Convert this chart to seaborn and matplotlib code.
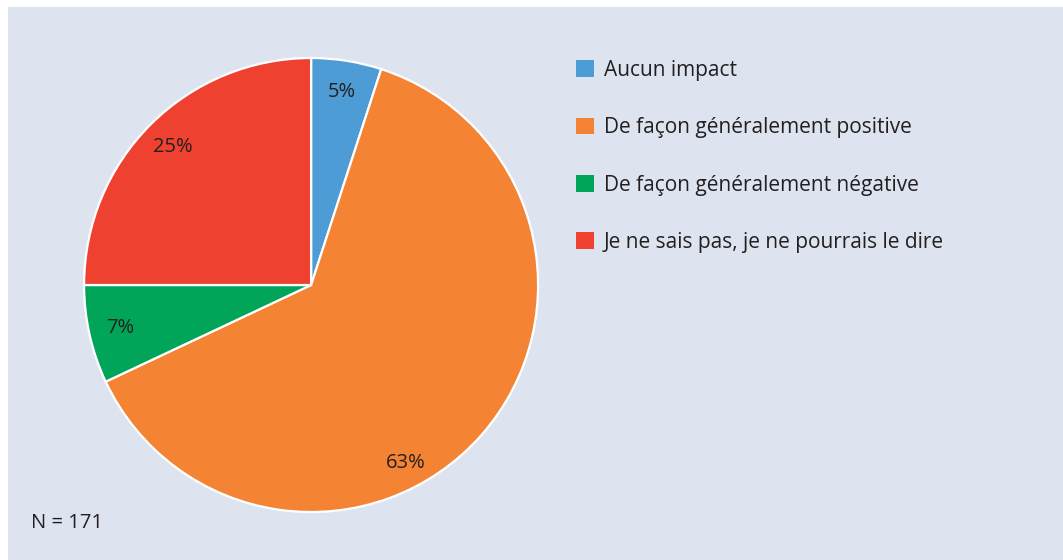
import matplotlib
matplotlib.use("Agg")
import numpy as np
import matplotlib.pyplot as plt
from matplotlib.patches import Patch, Rectangle
import seaborn as sns

# Data
categories = [
    "Aucun impact",
    "De façon généralement positive",
    "De façon généralement négative",
    "Je ne sais pas, je ne pourrais le dire",
]
shares = [5, 63, 7, 25]
colors = ["#4e9cd5", "#f48434", "#00a55a", "#ee4130"]
n_label = "N = 171"

bg_color = "#dde4f0"
text_color = "#231f20"

sns.set_theme(style="white")
plt.rcParams["font.family"] = ["Open Sans", "DejaVu Sans"]

fig = plt.figure(figsize=(10.63, 5.6), dpi=100)
fig.patch.set_facecolor("white")

# light panel behind everything
fig.patches.append(Rectangle((8 / 1063, 0), 1, 1 - 7 / 560, transform=fig.transFigure,
                             facecolor=bg_color, edgecolor="none", zorder=-5))

ax = fig.add_axes([0.0791, 0.0857, 0.4271, 0.8107])
ax.set_facecolor("none")
ax.set_zorder(2)
palette = sns.color_palette(colors)

wedges, texts, autotexts = ax.pie(
    shares,
    colors=palette,
    startangle=90,
    counterclock=False,
    autopct=lambda p: f"{p:.0f}%",
    pctdistance=0.86,
    wedgeprops=dict(edgecolor="white", linewidth=1.6),
    textprops=dict(color=text_color, fontsize=14.5),
)
# the big slice's label sits lower in the original, not at mid-angle
ang = np.deg2rad(-62)
autotexts[1].set_position((0.89 * np.cos(ang), 0.89 * np.sin(ang)))

ax.set_xlim(-1, 1)
ax.set_ylim(-1, 1)
ax.set_aspect("equal")

handles = [Patch(facecolor=c, edgecolor="none") for c in palette]
fig.legend(
    handles, categories,
    loc="upper left",
    bbox_to_anchor=(576 / 1063, 1 - 60 / 560),
    frameon=False,
    fontsize=15,
    labelcolor=text_color,
    handlelength=0.85,
    handleheight=0.85,
    handletextpad=0.5,
    labelspacing=1.74,
    borderpad=0,
    borderaxespad=0,
)

fig.text(31 / 1063, 1 - 523 / 560, n_label, fontsize=14.5, color=text_color,
         ha="left", va="center")

fig.savefig("out.png", dpi=100, facecolor=fig.get_facecolor())
